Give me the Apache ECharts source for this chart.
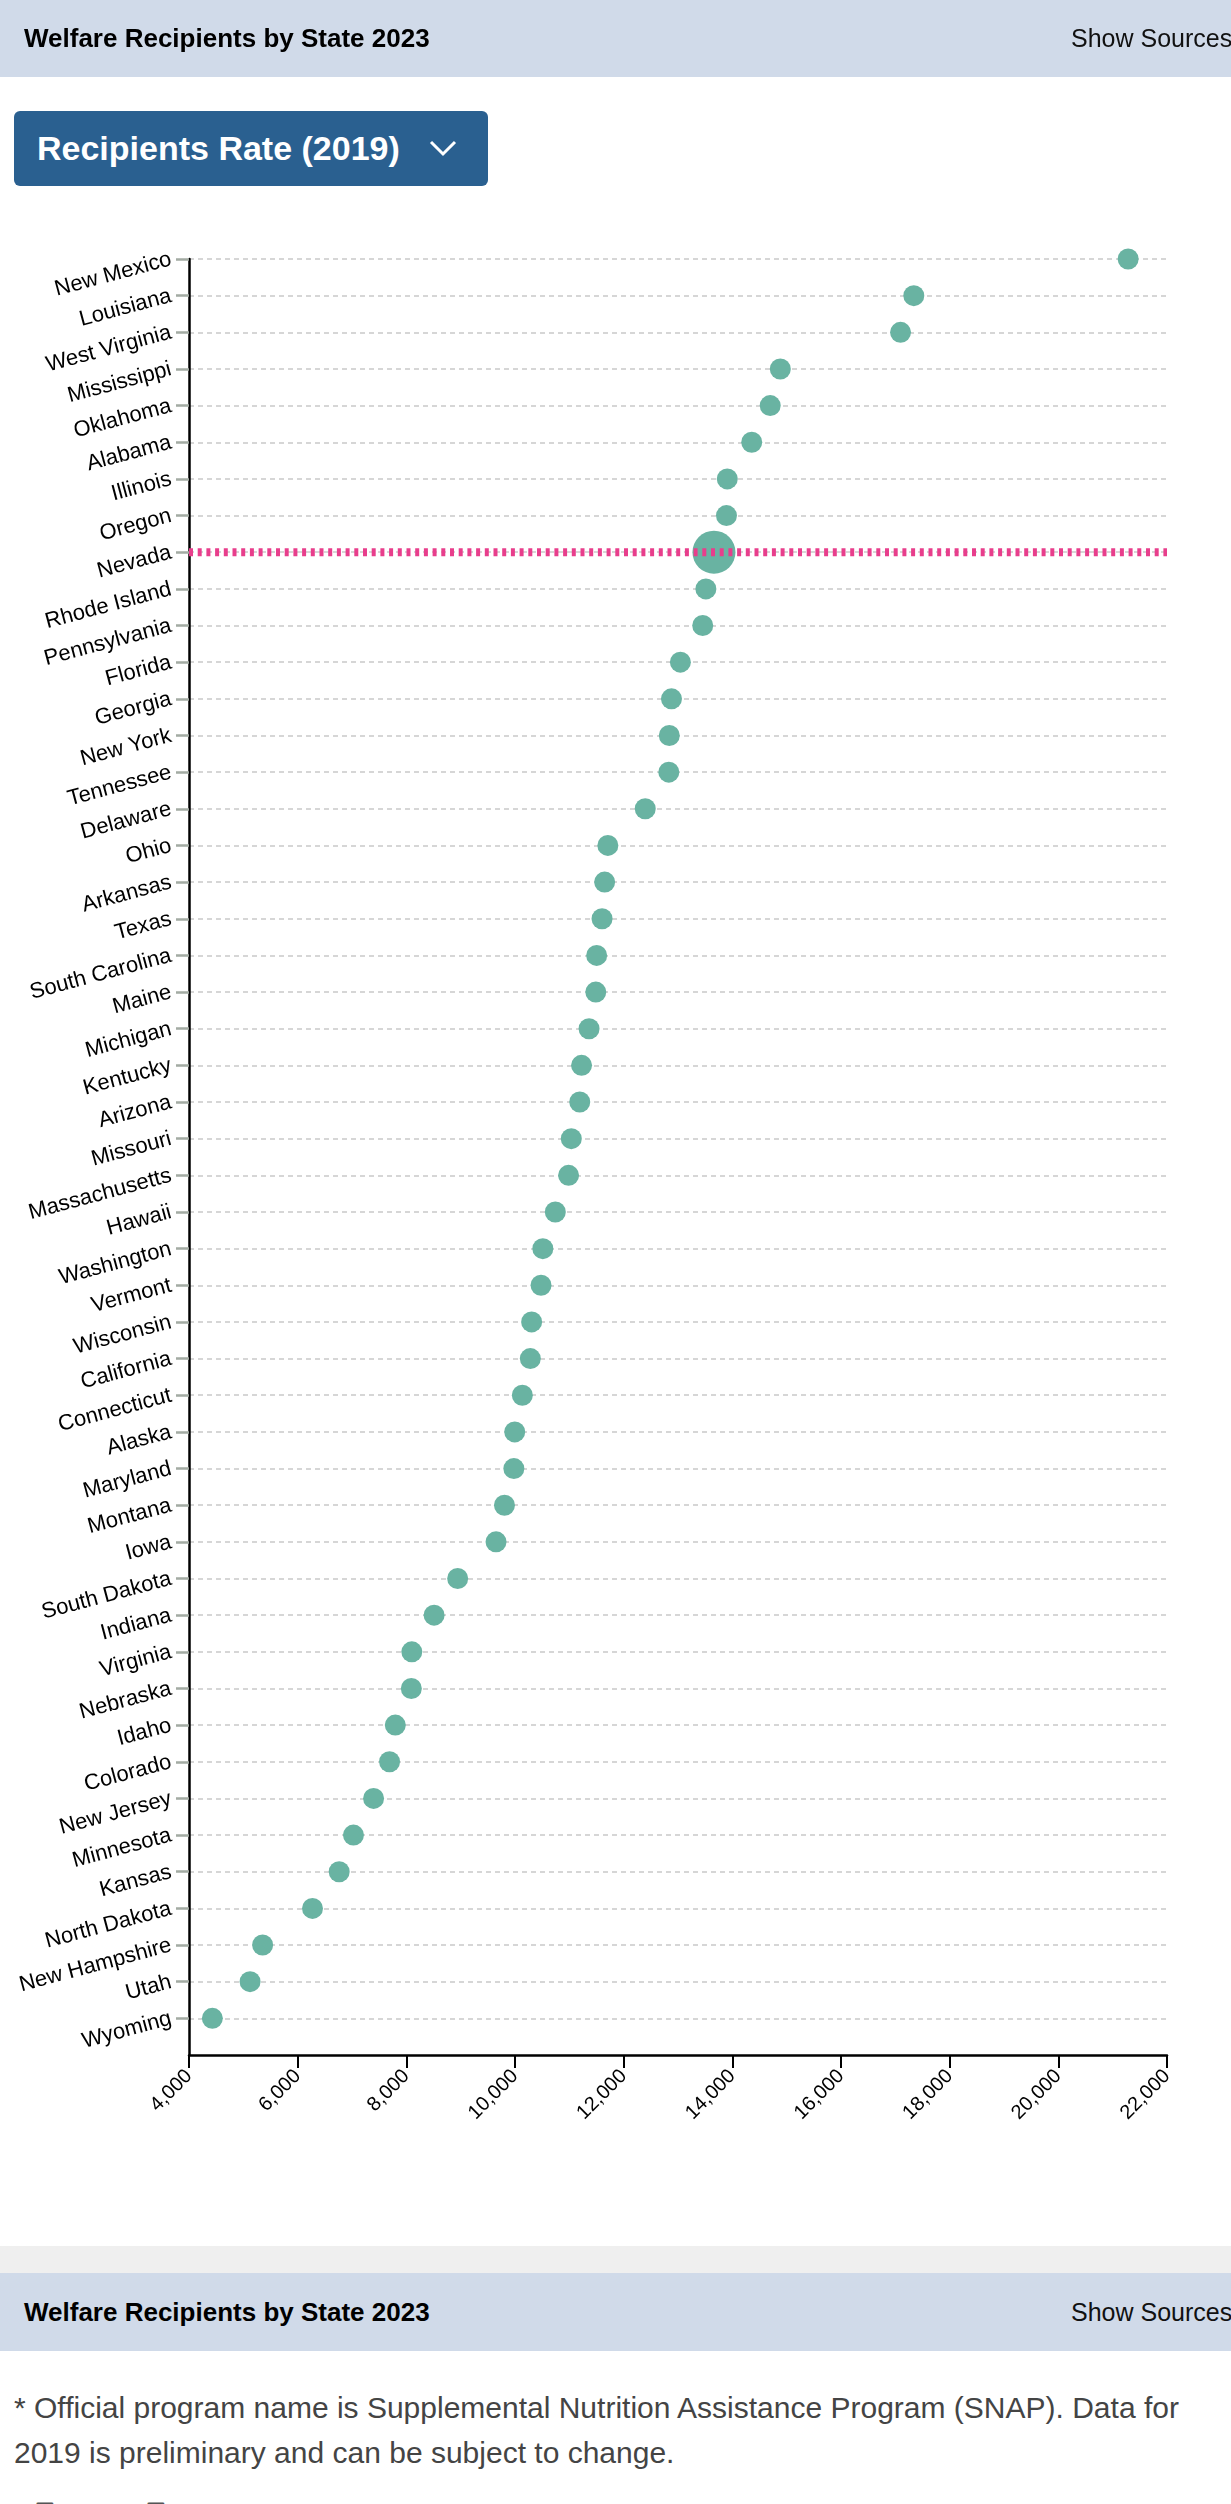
<!DOCTYPE html>
<html>
<head>
<meta charset="utf-8">
<script src="https://cdn.jsdelivr.net/npm/echarts@6/dist/echarts.min.js"></script>
<style>
  html, body { margin: 0; padding: 0; background: #fff; width: 1231px; height: 2504px; overflow: hidden; font-family: "Liberation Sans", Arial, sans-serif; }
  .bar { position: absolute; left: 0; width: 1231px; height: 77px; background: #d0dae9; z-index: 2; }
  .bar .t { position: absolute; left: 24px; top: 0; line-height: 76px; font-size: 26px; font-weight: bold; color: #000; white-space: nowrap; }
  .bar .s { position: absolute; left: 1071px; top: 0; line-height: 76px; font-size: 25px; color: #111; white-space: nowrap; }
  #btn { position: absolute; left: 14px; top: 111px; width: 474px; height: 75px; background: #2a6090; border-radius: 6px; z-index: 2; }
  #btn .l { position: absolute; left: 23px; top: 0; line-height: 75px; font-size: 34px; font-weight: bold; color: #fff; white-space: nowrap; }
  #btn svg { position: absolute; left: 414px; top: 28px; }
  #strip { position: absolute; left: 0; top: 2246px; width: 1231px; height: 27px; background: #efefef; z-index: 2; }
  #note { position: absolute; left: 14px; top: 2385px; width: 1210px; font-size: 30px; line-height: 45px; color: #444; z-index: 2; }
  #dl { position: absolute; left: 36px; top: 2499px; font-size: 28px; font-weight: bold; color: #555; z-index: 2; white-space: nowrap; }
  #chart { position: absolute; left: 0; top: 0; width: 1231px; height: 2240px; z-index: 1; }
</style>
</head>
<body>
<div id="chart"></div>
<div class="bar" style="top:0"><div class="t">Welfare Recipients by State 2023</div><div class="s">Show Sources</div></div>
<div id="btn"><div class="l">Recipients Rate (2019)</div>
  <svg width="30" height="20" viewBox="0 0 30 20"><polyline points="3,3 15,15 27,3" fill="none" stroke="#fff" stroke-width="3"/></svg>
</div>
<div id="strip"></div>
<div class="bar" style="top:2273px;height:78px"><div class="t" style="line-height:78px">Welfare Recipients by State 2023</div><div class="s" style="line-height:78px">Show Sources</div></div>
<div id="note">* Official program name is Supplemental Nutrition Assistance Program (SNAP). Data for 2019 is preliminary and can be subject to change.</div>
<div id="dl">&#x2398; CSV &nbsp; &#x2398; JSON</div>
<script>
const states = ["New Mexico","Louisiana","West Virginia","Mississippi","Oklahoma","Alabama","Illinois","Oregon","Nevada","Rhode Island","Pennsylvania","Florida","Georgia","New York","Tennessee","Delaware","Ohio","Arkansas","Texas","South Carolina","Maine","Michigan","Kentucky","Arizona","Missouri","Massachusetts","Hawaii","Washington","Vermont","Wisconsin","California","Connecticut","Alaska","Maryland","Montana","Iowa","South Dakota","Indiana","Virginia","Nebraska","Idaho","Colorado","New Jersey","Minnesota","Kansas","North Dakota","New Hampshire","Utah","Wyoming"];
const recipients = [21285,17340,17096,14883,14697,14357,13907,13892,13662,13513,13455,13044,12880,12840,12831,12397,11709,11650,11602,11503,11487,11363,11225,11192,11036,10986,10742,10512,10479,10306,10282,10135,9995,9979,9806,9651,8945,8511,8101,8092,7797,7691,7397,7027,6764,6273,5355,5124,4430];
const highlightState = "Nevada";
const xMin = 4000, xMax = 22000, xStep = 2000;

const font = '"Liberation Sans", Arial, sans-serif';
const yCats = states.concat([""]);
const lastIdx = yCats.length - 1;

const chart = echarts.init(document.getElementById('chart'), null, { renderer: 'canvas' });
chart.setOption({
  animation: false,
  backgroundColor: 'transparent',
  grid: { left: 189, top: 259, width: 978, height: 1796, containLabel: false },
  xAxis: {
    type: 'value', min: xMin, max: xMax, interval: xStep,
    axisLine: { show: true, onZero: false, lineStyle: { color: '#000', width: 2.5 } },
    axisTick: { show: true, length: 13, lineStyle: { color: '#000', width: 2 } },
    splitLine: { show: false },
    axisLabel: { rotate: 45, margin: 18, fontSize: 20, color: '#000', fontFamily: font,
      formatter: v => v.toLocaleString('en-US') }
  },
  yAxis: {
    type: 'category', data: yCats, inverse: true, boundaryGap: false,
    axisLine: { show: true, lineStyle: { color: '#000', width: 2.5 } },
    axisTick: { show: true, length: 13, interval: (i) => i !== lastIdx, lineStyle: { color: '#a3aba3', width: 2.5 } },
    splitLine: { show: true, interval: (i) => i !== lastIdx, lineStyle: { color: '#d6d6d6', width: 2, type: [5, 4] } },
    axisLabel: { interval: 0, rotate: 15, margin: 18, fontSize: 22, color: '#000', fontFamily: font, padding: [15, 0, 0, 0] }
  },
  series: [
    {
      type: 'scatter',
      data: states.map((s, i) => [recipients[i], s]),
      symbol: 'circle',
      symbolSize: (v) => v[1] === highlightState ? 43 : 21,
      itemStyle: { color: '#69b3a2', opacity: 1 },
      z: 3
    },
    {
      type: 'line',
      data: [[xMin, highlightState], [xMax, highlightState]],
      symbol: 'none',
      lineStyle: { color: '#e83e8c', width: 8, type: [4, 4.7] },
      z: 5
    }
  ]
});
</script>
</body>
</html>
